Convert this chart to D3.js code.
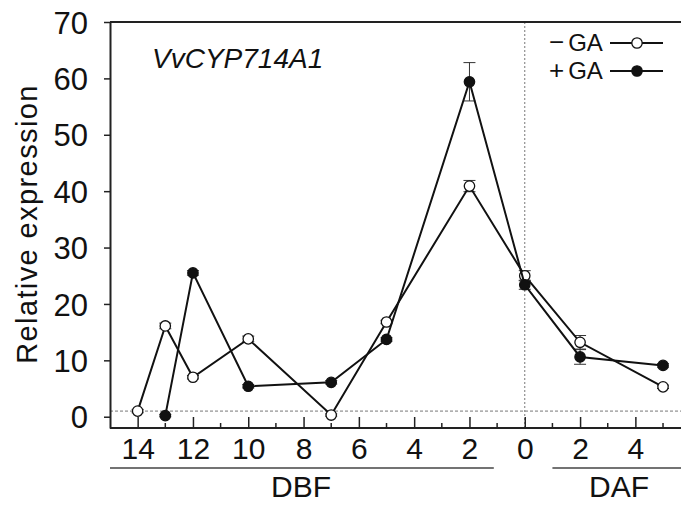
<!DOCTYPE html>
<meta charset="utf-8">
<script src="https://d3js.org/d3.v7.min.js"></script>
<style>
  body { margin: 0; background: #fff; }
  text { font-family: "Liberation Sans", Arial, sans-serif; fill: #111; }
</style>
<div id="chart"></div>
<script>

// days relative to bloom (negative = before bloom)
var daysMinus = [-14, -13, -12, -10, -7, -5, -2, 0, 2, 5];
var valMinus  = [1.0, 16.1, 7.0, 13.8, 0.3, 16.8, 40.9, 25.0, 13.2, 5.3];
var errMinus  = [0.3, 0.5, 0.3, 0.5, 0.2, 0.3, 1.0, 0.9, 1.2, 0.3];

var daysPlus = [-13, -12, -10, -7, -5, -2, 0, 2, 5];
var valPlus  = [0.2, 25.5, 5.4, 6.1, 13.7, 59.4, 23.4, 10.6, 9.1];
var errPlus  = [0.2, 0.4, 0.3, 0.3, 0.3, 3.4, 0.8, 1.3, 0.3];

var majorTicks = [-14, -12, -10, -8, -6, -4, -2, 0, 2, 4];
var minorTicks = [-13, -11, -9, -7, -5, -3, -1, 1, 3, 5];
var yTicks = [0, 10, 20, 30, 40, 50, 60, 70];

var W = 681, H = 505;
var svg = d3.select("#chart").append("svg")
    .attr("width", W)
    .attr("height", H);

var x = d3.scaleLinear().domain([-15, 5.65]).range([110, 681]);
var y = d3.scaleLinear().domain([-2, 70]).range([428, 22]);

// reference lines
svg.append("line")
    .attr("x1", x(0)).attr("x2", x(0))
    .attr("y1", y(70)).attr("y2", y(-2))
    .attr("stroke", "#777").attr("stroke-width", 1)
    .attr("stroke-dasharray", "2,2");
svg.append("line")
    .attr("x1", x(-15)).attr("x2", W)
    .attr("y1", y(1)).attr("y2", y(1))
    .attr("stroke", "#777").attr("stroke-width", 1)
    .attr("stroke-dasharray", "3,2");

// frame: top line
svg.append("line")
    .attr("x1", x(-15)).attr("x2", W)
    .attr("y1", y(70)).attr("y2", y(70))
    .attr("stroke", "#222").attr("stroke-width", 2);

// Y axis
var yAxis = svg.append("g")
    .attr("transform", "translate(" + x(-15) + ",0)")
    .call(d3.axisLeft(y).tickValues(yTicks).tickSize(6).tickSizeOuter(0).tickPadding(16));
yAxis.select(".domain").attr("stroke", "#222").attr("stroke-width", 2);
yAxis.selectAll(".tick line").attr("stroke", "#222").attr("stroke-width", 1.5);
yAxis.selectAll(".tick text")
    .style("font-family", "Liberation Sans, Arial, sans-serif")
    .style("font-size", "31px").attr("fill", "#111").attr("dy", "0.36em");

// X axis (ticks inward)
var xAxis = svg.append("g")
    .attr("transform", "translate(0," + y(-2) + ")")
    .call(d3.axisBottom(x).tickValues(majorTicks).tickSize(-11).tickSizeOuter(0).tickPadding(10)
      .tickFormat(function(d) { return Math.abs(d); }));
xAxis.select(".domain").attr("stroke", "#222").attr("stroke-width", 2)
    .attr("d", "M" + x(-15) + ",0H" + W);
xAxis.selectAll(".tick line").attr("stroke", "#222").attr("stroke-width", 1.5);
xAxis.selectAll(".tick text")
    .style("font-family", "Liberation Sans, Arial, sans-serif")
    .style("font-size", "30px").attr("fill", "#111");

svg.append("g").selectAll("line")
    .data(minorTicks).enter().append("line")
    .attr("x1", function(d) { return x(d); }).attr("x2", function(d) { return x(d); })
    .attr("y1", y(-2)).attr("y2", y(-2) - 5)
    .attr("stroke", "#222").attr("stroke-width", 1.5);

// DBF / DAF brackets
svg.append("line")
    .attr("x1", x(-15)).attr("x2", x(-1.12))
    .attr("y1", 468).attr("y2", 468)
    .attr("stroke", "#444").attr("stroke-width", 1.5);
svg.append("line")
    .attr("x1", x(1)).attr("x2", W)
    .attr("y1", 468).attr("y2", 468)
    .attr("stroke", "#444").attr("stroke-width", 1.5);
svg.append("text").text("DBF")
    .attr("x", 301).attr("y", 497)
    .attr("text-anchor", "middle").style("font-size", "30px");
svg.append("text").text("DAF")
    .attr("x", 619).attr("y", 497)
    .attr("text-anchor", "middle").style("font-size", "30px");

// Y label
svg.append("text").text("Relative expression")
    .attr("transform", "translate(37,224) rotate(-90)")
    .attr("text-anchor", "middle")
    .style("font-size", "29px").style("letter-spacing", "1.4px");

// gene name
svg.append("text").text("VvCYP714A1")
    .attr("x", 152).attr("y", 68)
    .style("font-size", "28px").style("font-style", "italic");

// series
var minus = daysMinus.map(function(d, i) { return {d: d, v: valMinus[i], e: errMinus[i]}; });
var plus = daysPlus.map(function(d, i) { return {d: d, v: valPlus[i], e: errPlus[i]}; });

var line = d3.line()
    .x(function(p) { return x(p.d); })
    .y(function(p) { return y(p.v); });

function drawSeries(data, fill) {
  var g = svg.append("g");
  g.selectAll(".err").data(data).enter().append("path")
    .attr("d", function(p) {
      var cx = x(p.d), t = y(p.v + p.e), b = y(p.v - p.e);
      return "M" + (cx - 6) + "," + t + "H" + (cx + 6) + "M" + cx + "," + t + "V" + b +
             "M" + (cx - 6) + "," + b + "H" + (cx + 6);
    })
    .attr("stroke", "#333").attr("stroke-width", 1).attr("fill", "none");
  g.append("path").datum(data)
    .attr("d", line)
    .attr("fill", "none").attr("stroke", "#111").attr("stroke-width", 2);
  g.selectAll("circle").data(data).enter().append("circle")
    .attr("cx", function(p) { return x(p.d); })
    .attr("cy", function(p) { return y(p.v); })
    .attr("r", 5.2)
    .attr("fill", fill).attr("stroke", "#111").attr("stroke-width", 1.3);
}
drawSeries(minus, "#fff");
drawSeries(plus, "#111");

// legend
var legend = [
  {sign: "\u2212", label: "GA", fill: "#fff", y: 51},
  {sign: "+", label: "GA", fill: "#111", y: 79}
];
legend.forEach(function(l) {
  var t = svg.append("text")
    .attr("x", 549).attr("y", l.y).style("font-size", "24px");
  t.append("tspan").text(l.sign).style("font-size", "26px");
  t.append("tspan").text(l.label).attr("dx", 4);
  svg.append("line")
    .attr("x1", 610).attr("x2", 663)
    .attr("y1", l.y - 8).attr("y2", l.y - 8)
    .attr("stroke", "#111").attr("stroke-width", 2);
  svg.append("circle")
    .attr("cx", 637).attr("cy", l.y - 8).attr("r", 5.2)
    .attr("fill", l.fill).attr("stroke", "#111").attr("stroke-width", 1.3);
});

</script>
